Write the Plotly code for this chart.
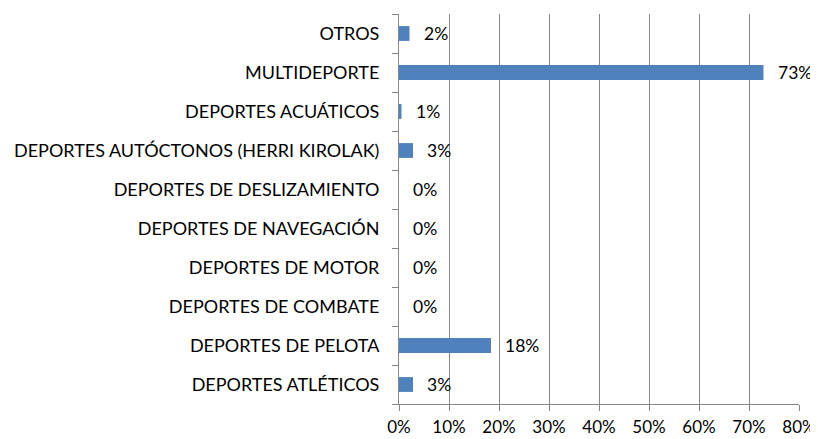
import plotly.graph_objects as go

# categories listed bottom -> top
categorias = [
    "DEPORTES ATLÉTICOS",
    "DEPORTES DE PELOTA",
    "DEPORTES DE COMBATE",
    "DEPORTES DE MOTOR",
    "DEPORTES DE NAVEGACIÓN",
    "DEPORTES DE DESLIZAMIENTO",
    "DEPORTES AUTÓCTONOS (HERRI KIROLAK)",
    "DEPORTES ACUÁTICOS",
    "MULTIDEPORTE",
    "OTROS",
]
valores = [0.028, 0.184, 0.0, 0.0, 0.0, 0.0, 0.028, 0.005, 0.729, 0.021]
etiquetas = ["3%", "18%", "0%", "0%", "0%", "0%", "3%", "1%", "73%", "2%"]
ticks_x = [0, 0.1, 0.2, 0.3, 0.4, 0.5, 0.6, 0.7, 0.8]

FONT = "Lato"
SIZE = 18
GRIS = "#868686"

fig = go.Figure()
fig.add_trace(go.Bar(
    x=valores, y=categorias, orientation="h",
    marker=dict(color="#4F81BD", line=dict(width=0)),
    width=0.38,
))

for v, c, t in zip(valores, categorias, etiquetas):
    fig.add_annotation(x=v, y=c, text=t, showarrow=False,
                       xanchor="left", xshift=12,
                       font=dict(family=FONT, size=17.5, color="#000000"))

fig.update_xaxes(
    range=[0, 0.8], tickvals=ticks_x, tickformat=".0%",
    showgrid=True, gridcolor=GRIS, gridwidth=1,
    showline=True, linecolor=GRIS, linewidth=1,
    ticks="outside", ticklen=6, tickcolor=GRIS, ticklabelstandoff=2,
    tickfont=dict(family=FONT, size=17, color="#000000"),
    zeroline=False, automargin=False,
)
fig.update_yaxes(
    categoryorder="array", categoryarray=categorias,
    showline=True, linecolor=GRIS, linewidth=1,
    ticks="outside", ticklen=6, tickcolor=GRIS, tickson="boundaries",
    showgrid=False, ticklabelstandoff=15, automargin=False,
    tickfont=dict(family=FONT, size=SIZE, color="#000000"),
)
# page body has an 8px margin, so the figure is 8px smaller on each side
fig.update_layout(
    width=810, height=431,
    margin=dict(l=391, r=19, t=6, b=35),
    plot_bgcolor="white", paper_bgcolor="white",
    showlegend=False, bargap=0.6,
)

fig.write_html("out.html")
